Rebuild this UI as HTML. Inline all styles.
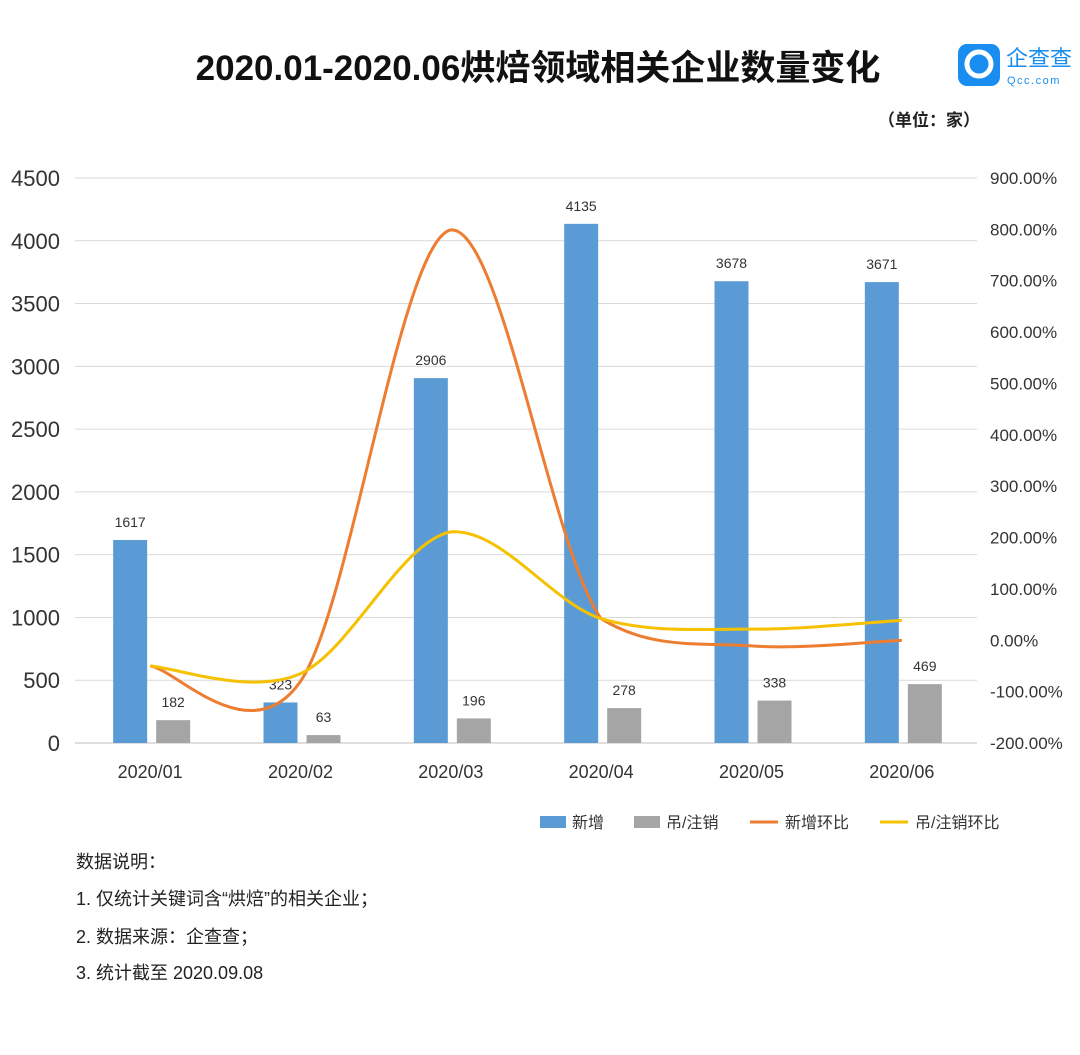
<!DOCTYPE html>
<html><head><meta charset="utf-8"><style>
body{margin:0;background:#fff;width:1080px;height:1050px;overflow:hidden;font-family:"Liberation Sans","Noto Sans CJK SC",sans-serif}
svg text{font-family:"Liberation Sans","Noto Sans CJK SC",sans-serif}
</style></head><body>
<svg id="c" width="1080" height="1050">
<text x="538" y="80" text-anchor="middle" font-size="35" font-weight="bold" fill="#111">2020.01-2020.06烘焙领域相关企业数量变化</text>
<g>
<rect x="958" y="44" width="42" height="42" rx="9" fill="#1a8ef0"/>
<circle cx="979" cy="64" r="12" fill="none" stroke="#fff" stroke-width="5"/>
<text x="1006" y="66" font-size="22" fill="#1a8ef0">企查查</text>
<text x="1007" y="84" font-size="11" fill="#1a8ef0" letter-spacing="1.5">Qcc.com</text>
</g>
<text x="980" y="126" text-anchor="end" font-size="17" font-weight="bold" fill="#222">（单位：家）</text>
<g id="plot"></g>
<g>
<rect x="540" y="816" width="26" height="12" fill="#5b9bd5"/>
<text x="572" y="828" font-size="16" fill="#333">新增</text>
<rect x="634" y="816" width="26" height="12" fill="#a5a5a5"/>
<text x="666" y="828" font-size="16" fill="#333">吊/注销</text>
<line x1="750" y1="822" x2="778" y2="822" stroke="#ed7d31" stroke-width="3"/>
<text x="785" y="828" font-size="16" fill="#333">新增环比</text>
<line x1="880" y1="822" x2="908" y2="822" stroke="#f5c100" stroke-width="3"/>
<text x="915" y="828" font-size="16" fill="#333">吊/注销环比</text>
</g>
<g font-size="18" fill="#222">
<text x="76" y="868">数据说明：</text>
<text x="76" y="905">1. 仅统计关键词含“烘焙”的相关企业；</text>
<text x="76" y="943">2. 数据来源：企查查；</text>
<text x="76" y="979">3. 统计截至 2020.09.08</text>
</g>
</svg>
<script>
const categories=["2020/01","2020/02","2020/03","2020/04","2020/05","2020/06"];
const newCounts=[1617,323,2906,4135,3678,3671];
const cancelCounts=[182,63,196,278,338,469];
const newMoM=[-50,-80,799,42,-11,-0.2];
const cancelMoM=[-50,-65,211,42,21.6,38.8];
const leftTicks=[0,500,1000,1500,2000,2500,3000,3500,4000,4500];
const rightTicks=[-200,-100,0,100,200,300,400,500,600,700,800,900];
const NS="http://www.w3.org/2000/svg";
const g=document.getElementById('plot');
const L=75,R=977,T=178,B=743;
const yL=v=>B-(v/4500)*(B-T);
const yR=v=>B-((v+200)/1100)*(B-T);
const bw=(R-L)/categories.length;
const xc=i=>L+bw*(i+0.5);
function el(t,a){const e=document.createElementNS(NS,t);for(const k in a)e.setAttribute(k,a[k]);g.appendChild(e);return e;}
leftTicks.forEach(v=>{
 const l=el('line',{x1:L,x2:R,y1:yL(v),y2:yL(v),stroke:v===0?'#bfbfbf':'#d9d9d9','stroke-width':1});
 
 
 const t=el('text',{x:60,y:yL(v)+8,'text-anchor':'end','font-size':22,fill:'#333'});t.textContent=v;
 
 
});
rightTicks.forEach(v=>{
 const t=el('text',{x:990,y:yR(v)+6,'font-size':17,fill:'#333'});t.textContent=v.toFixed(2)+'%';
 
 
});
categories.forEach((c,i)=>{
 const x=xc(i);
 const b1=el('rect',{x:x-37,y:yL(newCounts[i]),width:34,height:B-yL(newCounts[i]),fill:'#5b9bd5'});
 
 
 const b2=el('rect',{x:x+6,y:yL(cancelCounts[i]),width:34,height:B-yL(cancelCounts[i]),fill:'#a5a5a5'});
 
 
 const t1=el('text',{x:x-20,y:yL(newCounts[i])-13,'text-anchor':'middle','font-size':14,fill:'#333'});t1.textContent=newCounts[i];
 
 
 const t2=el('text',{x:x+23,y:yL(cancelCounts[i])-13,'text-anchor':'middle','font-size':14,fill:'#333'});t2.textContent=cancelCounts[i];
 
 
 const tl=el('text',{x:x,y:778,'text-anchor':'middle','font-size':18,fill:'#333'});tl.textContent=c;
 
 
});
function smooth(vals){
 const p=vals.map((v,i)=>[xc(i),yR(v)]);
 let d='M'+p[0][0]+','+p[0][1];
 const k=1/6;
 for(let i=0;i<p.length-1;i++){
  const p0=p[Math.max(0,i-1)],p1=p[i],p2=p[i+1],p3=p[Math.min(p.length-1,i+2)];
  const c1=[p1[0]+(p2[0]-p0[0])*k,p1[1]+(p2[1]-p0[1])*k];
  const c2=[p2[0]-(p3[0]-p1[0])*k,p2[1]-(p3[1]-p1[1])*k];
  if(i>=2){
   const lo=Math.min(p1[1],p2[1])-4,hi=Math.max(p1[1],p2[1])+4;
   c1[1]=Math.min(hi,Math.max(lo,c1[1]));
   c2[1]=Math.min(hi,Math.max(lo,c2[1]));
  }
  d+=` C${c1[0]},${c1[1]} ${c2[0]},${c2[1]} ${p2[0]},${p2[1]}`;
 }
 return d;
}
const l1=el('path',{d:smooth(newMoM),fill:'none',stroke:'#ed7d31','stroke-width':3});


const l2=el('path',{d:smooth(cancelMoM),fill:'none',stroke:'#f5c100','stroke-width':3});


</script>
</body></html>
